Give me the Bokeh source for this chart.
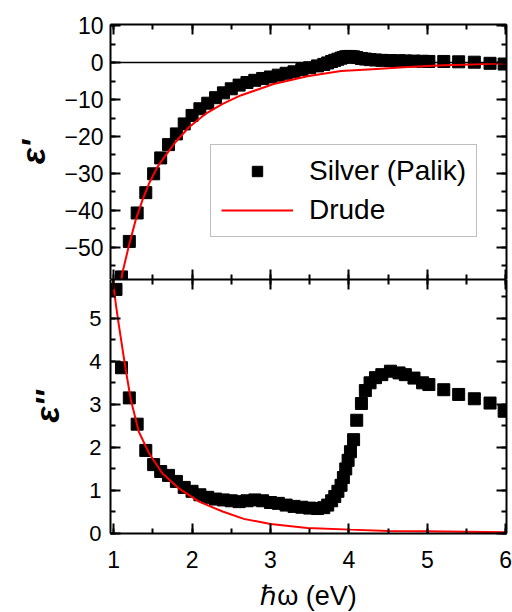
from bokeh.plotting import figure
from bokeh.models import Range1d, LinearAxis, FixedTicker, Span, Legend, LegendItem
from bokeh.layouts import column
from bokeh.embed import file_html
from bokeh.resources import INLINE

# ---- data ----
energy = [1.03, 1.10, 1.20, 1.30, 1.41, 1.51, 1.60, 1.70, 1.80, 1.90, 2.00, 2.10, 2.20, 2.30,
          2.40, 2.50, 2.60, 2.70, 2.80, 2.90, 3.00, 3.10, 3.20, 3.30, 3.40, 3.50, 3.60, 3.68,
          3.73, 3.78, 3.82, 3.86, 3.90, 3.93, 3.96, 3.99, 4.02, 4.06, 4.10, 4.16, 4.21, 4.27,
          4.34, 4.42, 4.53, 4.64, 4.72, 4.83, 4.94, 5.02, 5.21, 5.40, 5.60, 5.80, 5.98]
eps_real = [-66, -58, -48.4, -40.7, -35.2, -30.1, -25.8, -22.2, -19.3, -16.6, -14.3, -12.5, -11.0, -9.5,
            -8.2, -7.1, -6.1, -5.4, -4.8, -4.3, -3.9, -3.4, -2.9, -2.5, -1.9, -1.4, -0.9, -0.5,
            -0.1, 0.3, 0.6, 0.9, 1.2, 1.4, 1.55, 1.65, 1.65, 1.55, 1.35, 1.1, 0.95, 0.8,
            0.7, 0.6, 0.55, 0.5, 0.45, 0.4, 0.35, 0.3, 0.3, 0.2, 0.1, -0.2, -0.4]
eps_imag = [5.67, 3.85, 3.15, 2.54, 1.93, 1.60, 1.44, 1.35, 1.21, 1.07, 0.98, 0.90, 0.84, 0.80,
            0.78, 0.76, 0.74, 0.76, 0.78, 0.76, 0.72, 0.70, 0.66, 0.63, 0.61, 0.59, 0.58, 0.60,
            0.66, 0.76, 0.86, 0.98, 1.12, 1.30, 1.50, 1.70, 1.90, 2.18, 2.63, 3.02, 3.32, 3.50,
            3.62, 3.69, 3.77, 3.73, 3.69, 3.61, 3.50, 3.46, 3.34, 3.23, 3.13, 3.03, 2.84]

drude_e1_x = [1.00, 1.05, 1.11, 1.195, 1.28, 1.366, 1.45, 1.557, 1.663, 1.79, 1.96, 2.17, 2.39,
              2.62, 3.04, 3.47, 3.90, 4.30, 4.70, 5.13, 5.55, 6.00]
drude_e1 = [-72, -65, -57.1, -49.5, -42.7, -37.3, -32.8, -28.3, -25.1, -21.5, -17.5, -13.9, -11.2,
            -8.9, -5.8, -3.7, -2.3, -1.8, -1.3, -0.8, -0.5, -0.2]
drude_e2_x = [0.975, 1.03, 1.07, 1.15, 1.22, 1.32, 1.45, 1.62, 1.83, 2.09, 2.39, 2.66, 3.00,
              3.47, 4.02, 4.50, 5.00, 6.00]
drude_e2 = [6.1, 5.3, 4.8, 3.85, 3.1, 2.37, 1.87, 1.40, 1.05, 0.74, 0.51, 0.34, 0.22,
            0.13, 0.09, 0.06, 0.05, 0.03]

x_major = [1, 2, 3, 4, 5, 6]
x_minor = [1.0, 1.5, 2.0, 2.5, 3.0, 3.5, 4.0, 4.5, 5.0, 5.5, 6.0]
top_major = [-50, -40, -30, -20, -10, 0, 10]
top_minor = [-55, -50, -45, -40, -35, -30, -25, -20, -15, -10, -5, 0, 5, 10]
bot_major = [0, 1, 2, 3, 4, 5]
bot_minor = [0, 0.5, 1, 1.5, 2, 2.5, 3, 3.5, 4, 4.5, 5, 5.5]

FONT = "Liberation Sans"


def style_axis(ax, ticks, labels=True, size="22px", standoff=8):
    ax.major_tick_in = 10
    ax.major_tick_out = 0
    ax.minor_tick_in = 5
    ax.minor_tick_out = 0
    ax.axis_line_width = 2
    ax.axis_line_color = "black"
    ax.major_tick_line_width = 2
    ax.minor_tick_line_width = 2
    ax.major_tick_line_color = "black"
    ax.minor_tick_line_color = "black"
    if labels:
        ax.major_label_text_font = FONT
        ax.major_label_text_font_size = size
        ax.major_label_text_color = "black"
        ax.major_label_standoff = standoff
    else:
        ax.major_label_overrides = {t: "" for t in ticks}
        ax.major_label_text_font_size = "1px"
        ax.major_label_standoff = 0


# ---- top panel: real part ----
p1 = figure(frame_width=396, frame_height=255, x_range=Range1d(0.96, 6.01),
            y_range=Range1d(-58.7, 10.3), output_backend="svg", toolbar_location=None,
            min_border_left=110, min_border_right=6, min_border_top=24, min_border_bottom=0,
            x_axis_location=None, y_axis_location=None)
p1.outline_line_color = None
p1.background_fill_color = "white"
p1.border_fill_color = "white"

xt = FixedTicker(ticks=x_major, minor_ticks=x_minor)
ytop = FixedTicker(ticks=top_major, minor_ticks=top_minor)

ax_l = LinearAxis(ticker=ytop, axis_label="ε'")
style_axis(ax_l, top_major, True, "23px", 7)
ax_l.axis_label_text_font = FONT
ax_l.axis_label_text_font_style = "bold italic"
ax_l.axis_label_text_font_size = "34px"
ax_l.axis_label_text_color = "black"
ax_l.axis_label_standoff = 9
p1.add_layout(ax_l, "left")
ax_r = LinearAxis(ticker=ytop)
style_axis(ax_r, top_major, False)
p1.add_layout(ax_r, "right")
ax_t = LinearAxis(ticker=xt)
style_axis(ax_t, x_major, False)
p1.add_layout(ax_t, "above")
ax_b = LinearAxis(ticker=xt)
style_axis(ax_b, x_major, False)
p1.add_layout(ax_b, "below")

p1.add_layout(Span(location=0, dimension="width", line_color="black", line_width=1.5))
r_pts1 = p1.scatter(energy, eps_real, marker="square", size=12, color="black")
r_line1 = p1.line(drude_e1_x, drude_e1, line_color="red", line_width=2)

legend = Legend(items=[LegendItem(label="Silver (Palik)", renderers=[r_pts1]),
                       LegendItem(label="Drude", renderers=[r_line1])],
                location=(100, 42), orientation="vertical")
legend.label_text_font = FONT
legend.label_text_font_size = "28px"
legend.label_text_color = "black"
legend.border_line_color = "#808080"
legend.border_line_width = 1
legend.padding = 10
legend.glyph_width = 72
legend.glyph_height = 26
legend.label_height = 26
legend.label_standoff = 16
legend.spacing = 7
legend.margin = 0
legend.background_fill_alpha = 1
p1.add_layout(legend, "center")

# ---- bottom panel: imaginary part ----
p2 = figure(frame_width=396, frame_height=254, x_range=p1.x_range,
            y_range=Range1d(0, 5.9), output_backend="svg", toolbar_location=None,
            min_border_left=110, min_border_right=6, min_border_top=0, min_border_bottom=79,
            x_axis_location=None, y_axis_location=None)
p2.outline_line_color = None
p2.background_fill_color = "white"
p2.border_fill_color = "white"

ybot = FixedTicker(ticks=bot_major, minor_ticks=bot_minor)
bx_l = LinearAxis(ticker=ybot, axis_label="ε''")
style_axis(bx_l, bot_major, True, "22px", 9)
bx_l.axis_label_text_font = FONT
bx_l.axis_label_text_font_style = "bold italic"
bx_l.axis_label_text_font_size = "34px"
bx_l.axis_label_text_color = "black"
bx_l.axis_label_standoff = 20
p2.add_layout(bx_l, "left")
bx_r = LinearAxis(ticker=ybot)
style_axis(bx_r, bot_major, False)
p2.add_layout(bx_r, "right")
bx_t = LinearAxis(ticker=xt)
style_axis(bx_t, x_major, False)
p2.add_layout(bx_t, "above")
bx_b = LinearAxis(ticker=xt, axis_label="ℏω (eV)")
style_axis(bx_b, x_major, True, "23px", 17)
bx_b.axis_label_text_font = FONT
bx_b.axis_label_text_font_style = "normal"
bx_b.axis_label_text_font_size = "27px"
bx_b.axis_label_text_color = "black"
bx_b.axis_label_standoff = 10
p2.add_layout(bx_b, "below")

p2.scatter(energy, eps_imag, marker="square", size=12, color="black")
p2.line(drude_e2_x, drude_e2, line_color="red", line_width=2)

for p in (p1, p2):
    for g in p.grid:
        g.visible = False

layout = column(p1, p2, spacing=0)
open("out.html", "w").write(file_html(layout, INLINE))
